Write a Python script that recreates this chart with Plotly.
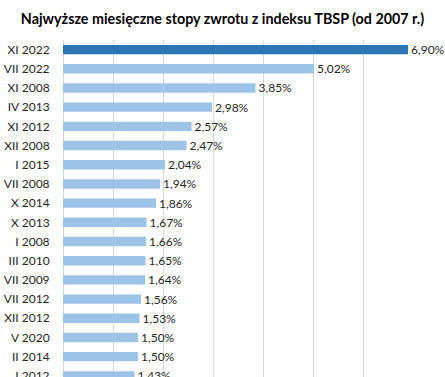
import plotly.graph_objects as go

categories = ["XI 2022", "VII 2022", "XI 2008", "IV 2013", "XI 2012", "XII 2008",
              "I 2015", "VII 2008", "X 2014", "X 2013", "I 2008", "III 2010",
              "VII 2009", "VII 2012", "XII 2012", "V 2020", "II 2014", "I 2012"]
values = [6.90, 5.02, 3.85, 2.98, 2.57, 2.47, 2.04, 1.94, 1.86, 1.67, 1.66, 1.65,
          1.64, 1.56, 1.53, 1.50, 1.50, 1.43]
labels = [f"{v:.2f}%".replace(".", ",") for v in values]
title = "Najwyższe miesięczne stopy zwrotu z indeksu TBSP (od 2007 r.)"

colors = ["#2E75B6"] + ["#9DC3E6"] * (len(values) - 1)

fig = go.Figure(go.Bar(
    x=values, y=list(range(len(categories))), orientation="h",
    marker=dict(color=colors, line=dict(width=0)),
    text=labels, textposition="outside", cliponaxis=False, constraintext="none",
    textfont=dict(family="Lato, sans-serif", size=12, color="#262626"),
    width=0.49, hoverinfo="skip",
))

fig.update_layout(
    width=445, height=377,
    margin=dict(l=62.5, r=32, t=40, b=0, autoexpand=False),
    paper_bgcolor="white", plot_bgcolor="white",
    title=dict(text=f"<b>{title}</b>", x=0.5, xanchor="center", y=0.95, yanchor="middle",
               font=dict(family="Lato, sans-serif", size=14.3, color="#000000")),
    showlegend=False,
    xaxis=dict(range=[0, 7], dtick=1, showgrid=True, gridcolor="#D9D9D9", gridwidth=1,
               showticklabels=False, zeroline=True, zerolinecolor="#D9D9D9", zerolinewidth=1,
               showline=False, fixedrange=True, automargin=False),
    yaxis=dict(range=[17.06, -0.5], tickmode="array",
               tickvals=list(range(len(categories))), ticktext=categories,
               showgrid=False, zeroline=False, showline=False, automargin=False,
               ticks="outside", ticklen=10, tickcolor="rgba(0,0,0,0)",
               ticklabeloverflow="allow", fixedrange=True,
               tickfont=dict(family="Lato, sans-serif", size=12, color="#262626")),
)

fig.write_html("out.html", config={"displayModeBar": False, "staticPlot": True},
               post_script="document.body.style.margin='0';document.body.style.overflow='hidden';")
